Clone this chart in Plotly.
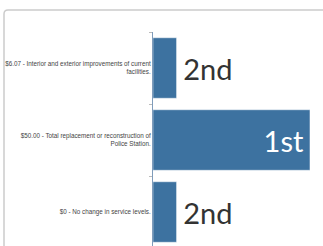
import plotly.graph_objects as go

categories = [
    "$6.07 - Interior and exterior improvements of current<br>facilities.",
    "$50.00 - Total replacement or reconstruction of<br>Police Station.",
    "$0 - No change in service levels.",
]
values = [3, 20, 3]
ranks = ["2nd", "1st", "2nd"]
positions = ["outside", "inside", "outside"]

W, H = 323, 246
L, T = 153, 32
PW, PH = W - L, H - T

def px(x):
    return (x - L) / PW

def py(y):
    return (H - y) / PH

fig = go.Figure()
fig.add_trace(go.Bar(
    y=categories, x=values, orientation="h",
    text=ranks, textposition=positions,
    texttemplate=["\u2009%{text}", "%{text}\u2009", "\u2009%{text}"],
    insidetextanchor="end",
    textfont=dict(family="Lato, Noto Sans, sans-serif", size=29),
    insidetextfont=dict(color="white"),
    outsidetextfont=dict(color="#333333"),
    marker=dict(color="#3d72a0", line=dict(color="rgba(255,255,255,0.45)", width=1)),
    cliponaxis=False,
    hoverinfo="skip",
))

r = 4
path = (f"M {px(4)},{py(H+5)} L {px(4)},{py(10+r)} "
        f"Q {px(4)},{py(10)} {px(4+r)},{py(10)} L {px(W+5)},{py(10)}")

fig.update_layout(
    width=W, height=H,
    margin=dict(l=L, r=0, t=T, b=0, autoexpand=False),
    paper_bgcolor="white", plot_bgcolor="white",
    showlegend=False,
    bargap=0.16,
    hovermode=False,
    xaxis=dict(visible=False, range=[0, 21.66], fixedrange=True, automargin=False),
    yaxis=dict(
        categoryorder="array", categoryarray=categories,
        range=[2.472, -0.5], automargin=False, fixedrange=True,
        showline=True, linecolor="#7f9cbb", linewidth=1,
        ticks="outside", tickson="boundaries", ticklen=3, tickcolor="#bbbbbb",
        tickfont=dict(family="Liberation Sans, Arial, sans-serif", size=6.3, color="#444444"),
        showgrid=False, zeroline=False,
    ),
    shapes=[dict(type="path", path=path, xref="paper", yref="paper",
                 line=dict(color="#cccccc", width=1.5), layer="above")],
)

fig.write_html(
    "out.html",
    config={"displayModeBar": False},
    post_script="document.body.style.margin='0';document.body.style.overflow='hidden';",
)
